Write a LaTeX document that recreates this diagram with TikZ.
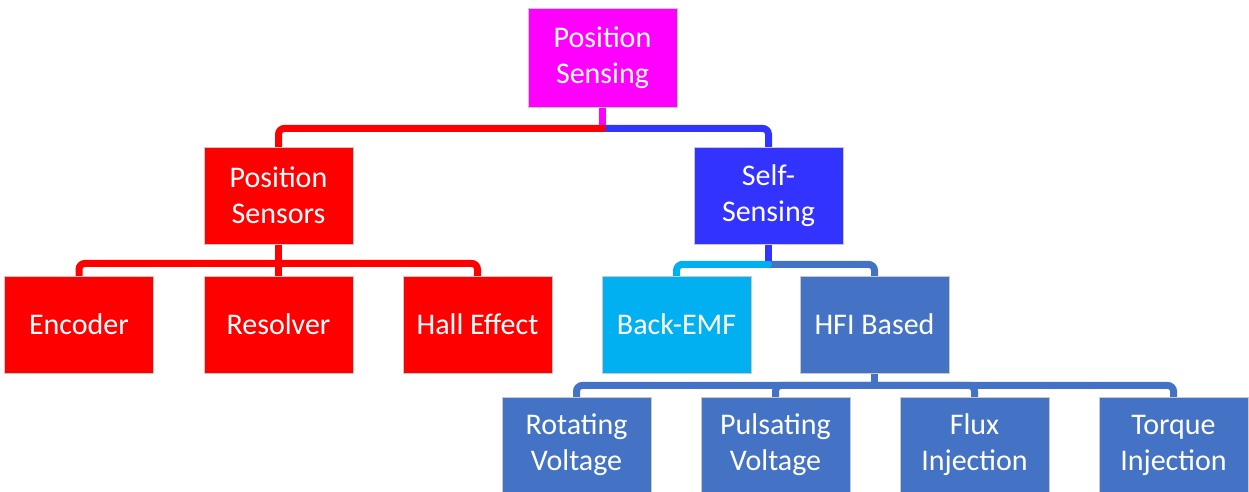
\documentclass[tikz,border=0pt]{standalone}
\usepackage{fontspec}
\setmainfont{Carlito}
\usetikzlibrary{backgrounds}
\definecolor{cMag}{HTML}{FF00FF}
\definecolor{cRed}{HTML}{FF0000}
\definecolor{cBlue}{HTML}{3333FF}
\definecolor{cLight}{HTML}{00B0F0}
\definecolor{cSteel}{HTML}{4472C4}
\definecolor{cEdge}{HTML}{C8C8C8}
\tikzset{
  box/.style={rectangle, draw=cEdge, line width=0.8pt, text=white, align=center,
    minimum width=149pt, minimum height=97pt, inner sep=0pt,
    font=\fontsize{30}{36}\selectfont},
  link/.style={line width=7pt, rounded corners=6pt, line cap=round},
}
\begin{document}
\begin{tikzpicture}[x=1pt,y=-1pt]
\useasboundingbox (0,0) rectangle (1249,492);
% nodes
\node[box, fill=cMag, minimum height=99pt] (ps) at (602.5,57.5) {Position\\Sensing};
\node[box, fill=cRed] (psen) at (278.5,195.5) {Position\\Sensors};
\node[box, fill=cBlue] (ss) at (768.5,195.5) {Self-\\Sensing};
\node[box, fill=cRed] (enc) at (79,324.5) {Encoder};
\node[box, fill=cRed] (res) at (278.5,324.5) {Resolver};
\node[box, fill=cRed] (hall) at (477.5,324.5) {Hall Effect};
\node[box, fill=cLight] (bemf) at (676.5,324.5) {Back-EMF};
\node[box, fill=cSteel] (hfi) at (874.5,324.5) {HFI Based};
\node[box, fill=cSteel, minimum height=96pt] (rot) at (576.5,445) {Rotating\\Voltage};
\node[box, fill=cSteel, minimum height=96pt] (pul) at (775.5,445) {Pulsating\\Voltage};
\node[box, fill=cSteel, minimum height=96pt] (flux) at (974.5,445) {Flux\\Injection};
\node[box, fill=cSteel, minimum height=96pt] (torq) at (1173.5,445) {Torque\\Injection};
% junction coordinates
\coordinate (j1) at ([yshift=-21pt]ps.south);
\coordinate (j2) at ([yshift=-19pt]psen.south);
\coordinate (j3) at ([yshift=-20pt]ss.south);
\coordinate (j4) at ([yshift=-12pt]hfi.south);
\begin{scope}[on background layer]
% level 1
\draw[link, cMag, line cap=butt] (ps.south) -- (j1);
\draw[link, cBlue] (j1) -| (ss.north);
\draw[link, cRed] (j1) -| (psen.north);
% level 2 left
\draw[link, cRed] (psen.south) -- (j2);
\draw[link, cRed] (j2) -| (enc.north);
\draw[link, cRed] (j2) -- (res.north);
\draw[link, cRed] (j2) -| (hall.north);
% level 2 right
\draw[link, cBlue, line cap=butt] (ss.south) -- (j3);
\draw[link, cSteel] (j3) -| (hfi.north);
\draw[link, cLight] (j3) -| (bemf.north);
% level 3
\draw[link, cSteel] (hfi.south) -- (j4);
\draw[link, cSteel] (j4) -| (rot.north);
\draw[link, cSteel] (j4) -| (pul.north);
\draw[link, cSteel] (j4) -| (flux.north);
\draw[link, cSteel] (j4) -| (torq.north);
\end{scope}
\end{tikzpicture}
\end{document}
